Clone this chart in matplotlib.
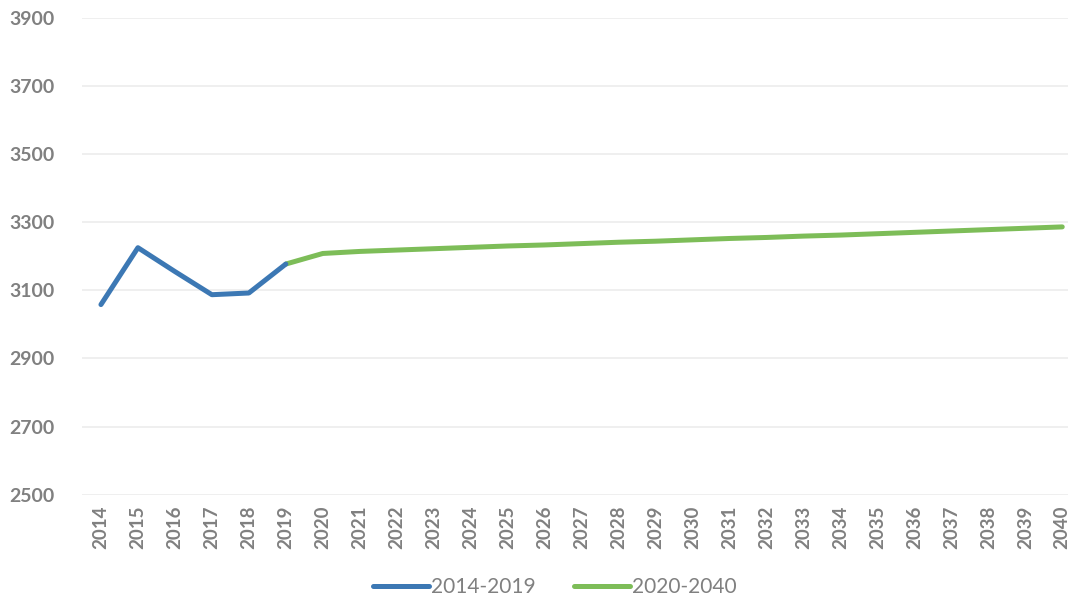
import matplotlib.pyplot as plt

# data
years = [str(y) for y in range(2014, 2041)]
hist_years = years[:6]                      # 2014-2019
hist_vals = [3058, 3225, 3155, 3087, 3092, 3177]
proj_years = years[5:]                      # 2019-2040 (joins at 2019)
proj_vals = [3177, 3208, 3214, 3218, 3222, 3226, 3230, 3233, 3237, 3241, 3244,
             3248, 3252, 3255, 3259, 3262, 3266, 3270, 3274, 3278, 3282, 3286]

plt.rcParams['font.family'] = ['Lato', 'DejaVu Sans']

fig = plt.figure(figsize=(10.71, 6.10), dpi=100)
ax = fig.add_axes([0.077, 0.189, 0.92, 0.782])

x_all = list(range(len(years)))
x_hist = [years.index(y) for y in hist_years]
x_proj = [years.index(y) for y in proj_years]

ax.plot(x_proj, proj_vals, color='#7dbd58', lw=3.6, solid_capstyle='round',
        label='2020-2040', zorder=3)
ax.plot(x_hist, hist_vals, color='#3c78b4', lw=3.6, solid_capstyle='round',
        label='2014-2019', zorder=4)

ax.set_ylim(2500, 3900)
ax.set_yticks(range(2500, 3901, 200))
ax.set_xlim(-0.5, 26.15)
ax.set_xticks(x_all)
ax.set_xticklabels(years, rotation=90, fontweight='bold')

ax.grid(axis='y', color='#ececec', lw=1.2)
ax.set_axisbelow(True)
for s in ax.spines.values():
    s.set_visible(False)
ax.tick_params(length=0, colors='#808080')
ax.tick_params(axis='y', labelsize=14, pad=20)
ax.tick_params(axis='x', labelsize=13.5, pad=8)
for lbl in ax.get_yticklabels():
    lbl.set_fontweight('bold')

h, l = ax.get_legend_handles_labels()
fig.legend(h[::-1], l[::-1], loc='lower center', bbox_to_anchor=(0.518, -0.01),
           ncol=2, frameon=False, fontsize=15, handlelength=2.7,
           columnspacing=1.8, handletextpad=0.1, labelcolor='#808080')

fig.savefig('out.png', dpi=100)
